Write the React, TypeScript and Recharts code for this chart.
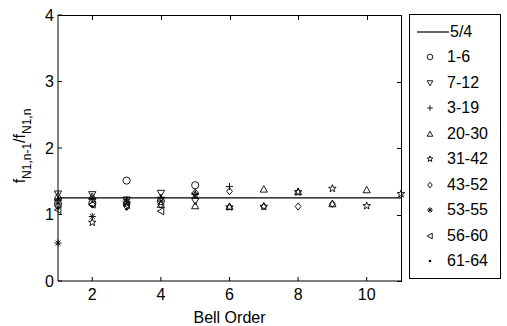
import React from 'react'
import {
  ComposedChart,
  Scatter,
  XAxis,
  YAxis,
} from 'recharts'

// bell order (x) and ratio f(n-1)/f(n) for each bell group
const orders = [1, 2, 3, 4, 5, 6, 7, 8, 9, 10, 11]
const ratio1to6 = [1.16, 1.17, 1.51, 1.2, 1.44]
const ratio7to12 = [1.31, 1.3, 1.22, 1.32, 1.2]
const ratio3to19 = [1.22, 1.24, 1.22, 1.25, 1.3, 1.42]
const ratio20to30 = [1.28, 1.27, 1.2, 1.15, 1.13, 1.12, 1.38, 1.34, 1.16, 1.37]
const ratio31to42 = [1.2, 0.88, 1.17, 1.24, 1.3, 1.11, 1.12, 1.34, 1.39, 1.13, 1.31]
const ratio43to52 = [1.12, 1.15, 1.12, 1.15, 1.33, 1.35, 1.12, 1.12, 1.16]
const ratio53to55 = [0.57, 0.97]
const ratio56to60 = [1.07, 1.15, 1.14, 1.05]
const ratio61to64 = [1.1, 1.12, 1.08]

// the 5/4 reference line, end to end
const refOrders = [1, 11]
const refRatio = [5 / 4, 5 / 4]

const xDomain = [1, 11]
const yDomain = [0, 4]
const xTicks = [2, 4, 6, 8, 10]
const yTicks = [0, 1, 2, 3, 4]

const FONT = '"Liberation Sans", Arial, sans-serif'

// plot box in page pixels (chart margins + axis sizes)
const W = 507
const H = 326
const LEFT = 58
const TOP = 15
const RIGHT = 401
const BOTTOM = 281

type Kind =
  | 'circle'
  | 'down'
  | 'plus'
  | 'up'
  | 'star'
  | 'diamond'
  | 'asterisk'
  | 'left'
  | 'dot'

const series: { name: string; kind: Kind; values: number[] }[] = [
  { name: '1-6', kind: 'circle', values: ratio1to6 },
  { name: '7-12', kind: 'down', values: ratio7to12 },
  { name: '3-19', kind: 'plus', values: ratio3to19 },
  { name: '20-30', kind: 'up', values: ratio20to30 },
  { name: '31-42', kind: 'star', values: ratio31to42 },
  { name: '43-52', kind: 'diamond', values: ratio43to52 },
  { name: '53-55', kind: 'asterisk', values: ratio53to55 },
  { name: '56-60', kind: 'left', values: ratio56to60 },
  { name: '61-64', kind: 'dot', values: ratio61to64 },
]

function Marker({ kind, cx, cy, r = 3.6 }: { kind: Kind; cx: number; cy: number; r?: number }) {
  const s = { fill: 'none', stroke: '#000', strokeWidth: 0.9 }
  const pts = (p: number[][]) => p.map((q) => q.join(',')).join(' ')
  switch (kind) {
    case 'circle':
      return <circle cx={cx} cy={cy} r={r} {...s} />
    case 'down':
      return <polygon points={pts([[cx - r, cy - r * 0.8], [cx + r, cy - r * 0.8], [cx, cy + r]])} {...s} />
    case 'up':
      return <polygon points={pts([[cx - r, cy + r * 0.8], [cx + r, cy + r * 0.8], [cx, cy - r]])} {...s} />
    case 'left':
      return <polygon points={pts([[cx + r * 0.8, cy - r], [cx + r * 0.8, cy + r], [cx - r, cy]])} {...s} />
    case 'diamond':
      return <polygon points={pts([[cx, cy - r], [cx + r * 0.8, cy], [cx, cy + r], [cx - r * 0.8, cy]])} {...s} />
    case 'plus':
      return <path d={`M${cx - r},${cy}H${cx + r}M${cx},${cy - r}V${cy + r}`} {...s} />
    case 'asterisk': {
      const d = r * 0.7
      return (
        <path
          d={`M${cx - r},${cy}H${cx + r}M${cx},${cy - r}V${cy + r}M${cx - d},${cy - d}L${cx + d},${cy + d}M${cx - d},${cy + d}L${cx + d},${cy - d}`}
          {...s}
        />
      )
    }
    case 'star': {
      const p: number[][] = []
      for (let i = 0; i < 10; i++) {
        const rad = i % 2 === 0 ? r * 1.1 : r * 0.45
        const a = -Math.PI / 2 + (i * Math.PI) / 5
        p.push([cx + rad * Math.cos(a), cy + rad * Math.sin(a)])
      }
      return <polygon points={pts(p)} {...s} />
    }
    case 'dot':
      return <circle cx={cx} cy={cy} r={1.3} fill="#000" />
  }
  return null
}

// top and right edges of the axes box (css border) plus inner ticks
function BoxFrame() {
  const sx = (v: number) =>
    Math.round(LEFT + ((v - xDomain[0]) / (xDomain[1] - xDomain[0])) * (RIGHT - LEFT)) + 0.5
  const sy = (v: number) =>
    Math.round(BOTTOM - ((v - yDomain[0]) / (yDomain[1] - yDomain[0])) * (BOTTOM - TOP)) + 0.5
  let d = ''
  xTicks.forEach((t) => (d += `M${sx(t)},${TOP}V${TOP + 5}`))
  yTicks.forEach((t) => (d += `M${RIGHT + 1},${sy(t)}H${RIGHT - 4}`))
  return (
    <>
      <div
        style={{
          position: 'absolute',
          left: LEFT,
          top: TOP,
          width: RIGHT - LEFT + 1,
          height: BOTTOM - TOP + 1,
          boxSizing: 'border-box',
          borderTop: '1px solid #000',
          borderRight: '1px solid #000',
          pointerEvents: 'none',
        }}
      />
      <svg
        width={W}
        height={H}
        style={{ position: 'absolute', left: 0, top: 0, pointerEvents: 'none' }}
      >
        <path d={d} fill="none" stroke="#000" strokeWidth={1} />
      </svg>
    </>
  )
}

function LegendBox() {
  return (
    <div
      style={{
        position: 'absolute',
        left: 409,
        top: 14,
        border: '1px solid #000',
        width: 92,
        height: 265,
        boxSizing: 'border-box',
        fontFamily: FONT,
        fontSize: 16,
        background: '#fff',
        paddingTop: 4,
      }}
    >
      <div style={{ display: 'flex', alignItems: 'center', height: 25.5 }}>
        <svg width={40} height={12}>
          <line x1={7} x2={39} y1={6} y2={6} stroke="#000" strokeWidth={1.2} />
        </svg>
        <span>5/4</span>
      </div>
      {series.map((s) => (
        <div key={s.name} style={{ display: 'flex', alignItems: 'center', height: 25.5 }}>
          <svg width={37} height={12}>
            <Marker kind={s.kind} cx={20} cy={6} r={2.8} />
          </svg>
          <span>{s.name}</span>
        </div>
      ))}
    </div>
  )
}

function YLabel() {
  return (
    <text
      x={25}
      y={146}
      transform="rotate(-90, 25, 146)"
      textAnchor="middle"
      fontFamily={FONT}
      fontSize={16}
      fill="#000"
    >
      f
      <tspan fontSize={12} dy={6}>
        N1,n-1
      </tspan>
      <tspan dy={-6}>/f</tspan>
      <tspan fontSize={12} dy={6}>
        N1,n
      </tspan>
    </text>
  )
}

export default function App() {
  return (
    <div style={{ position: 'absolute', left: 0, top: 0, width: W, height: H, background: '#fff' }}>
      <ComposedChart
        width={W}
        height={H}
        margin={{ top: TOP, right: W - RIGHT, bottom: 0, left: 0 }}
      >
        <XAxis
          dataKey="x"
          type="number"
          domain={xDomain}
          ticks={xTicks}
          height={H - BOTTOM}
          tickSize={-4}
          tickMargin={12}
          stroke="#000"
          tick={{ fill: '#000', fontSize: 16, fontFamily: FONT }}
          label={{ value: 'Bell Order', position: 'insideBottom', offset: 3, fill: '#000', fontSize: 16, fontFamily: FONT }}
        />
        <YAxis
          dataKey="y"
          type="number"
          domain={yDomain}
          ticks={yTicks}
          width={LEFT}
          tickSize={-4}
          tickMargin={8}
          stroke="#000"
          tick={{ fill: '#000', fontSize: 16, fontFamily: FONT }}
          label={<YLabel />}
        />
        <Scatter
          name="5/4"
          data={refOrders.map((x, i) => ({ x, y: refRatio[i] }))}
          line={{ stroke: '#000', strokeWidth: 1.3 }}
          shape={() => <g />}
          isAnimationActive={false}
        />
        {series.map((s) => (
          <Scatter
            key={s.name}
            name={s.name}
            data={s.values.map((v, i) => ({ x: orders[i], y: v }))}
            isAnimationActive={false}
            shape={(p: any) => <Marker kind={s.kind} cx={p.cx} cy={p.cy} />}
          />
        ))}
      </ComposedChart>
      <BoxFrame />
      <LegendBox />
    </div>
  )
}
